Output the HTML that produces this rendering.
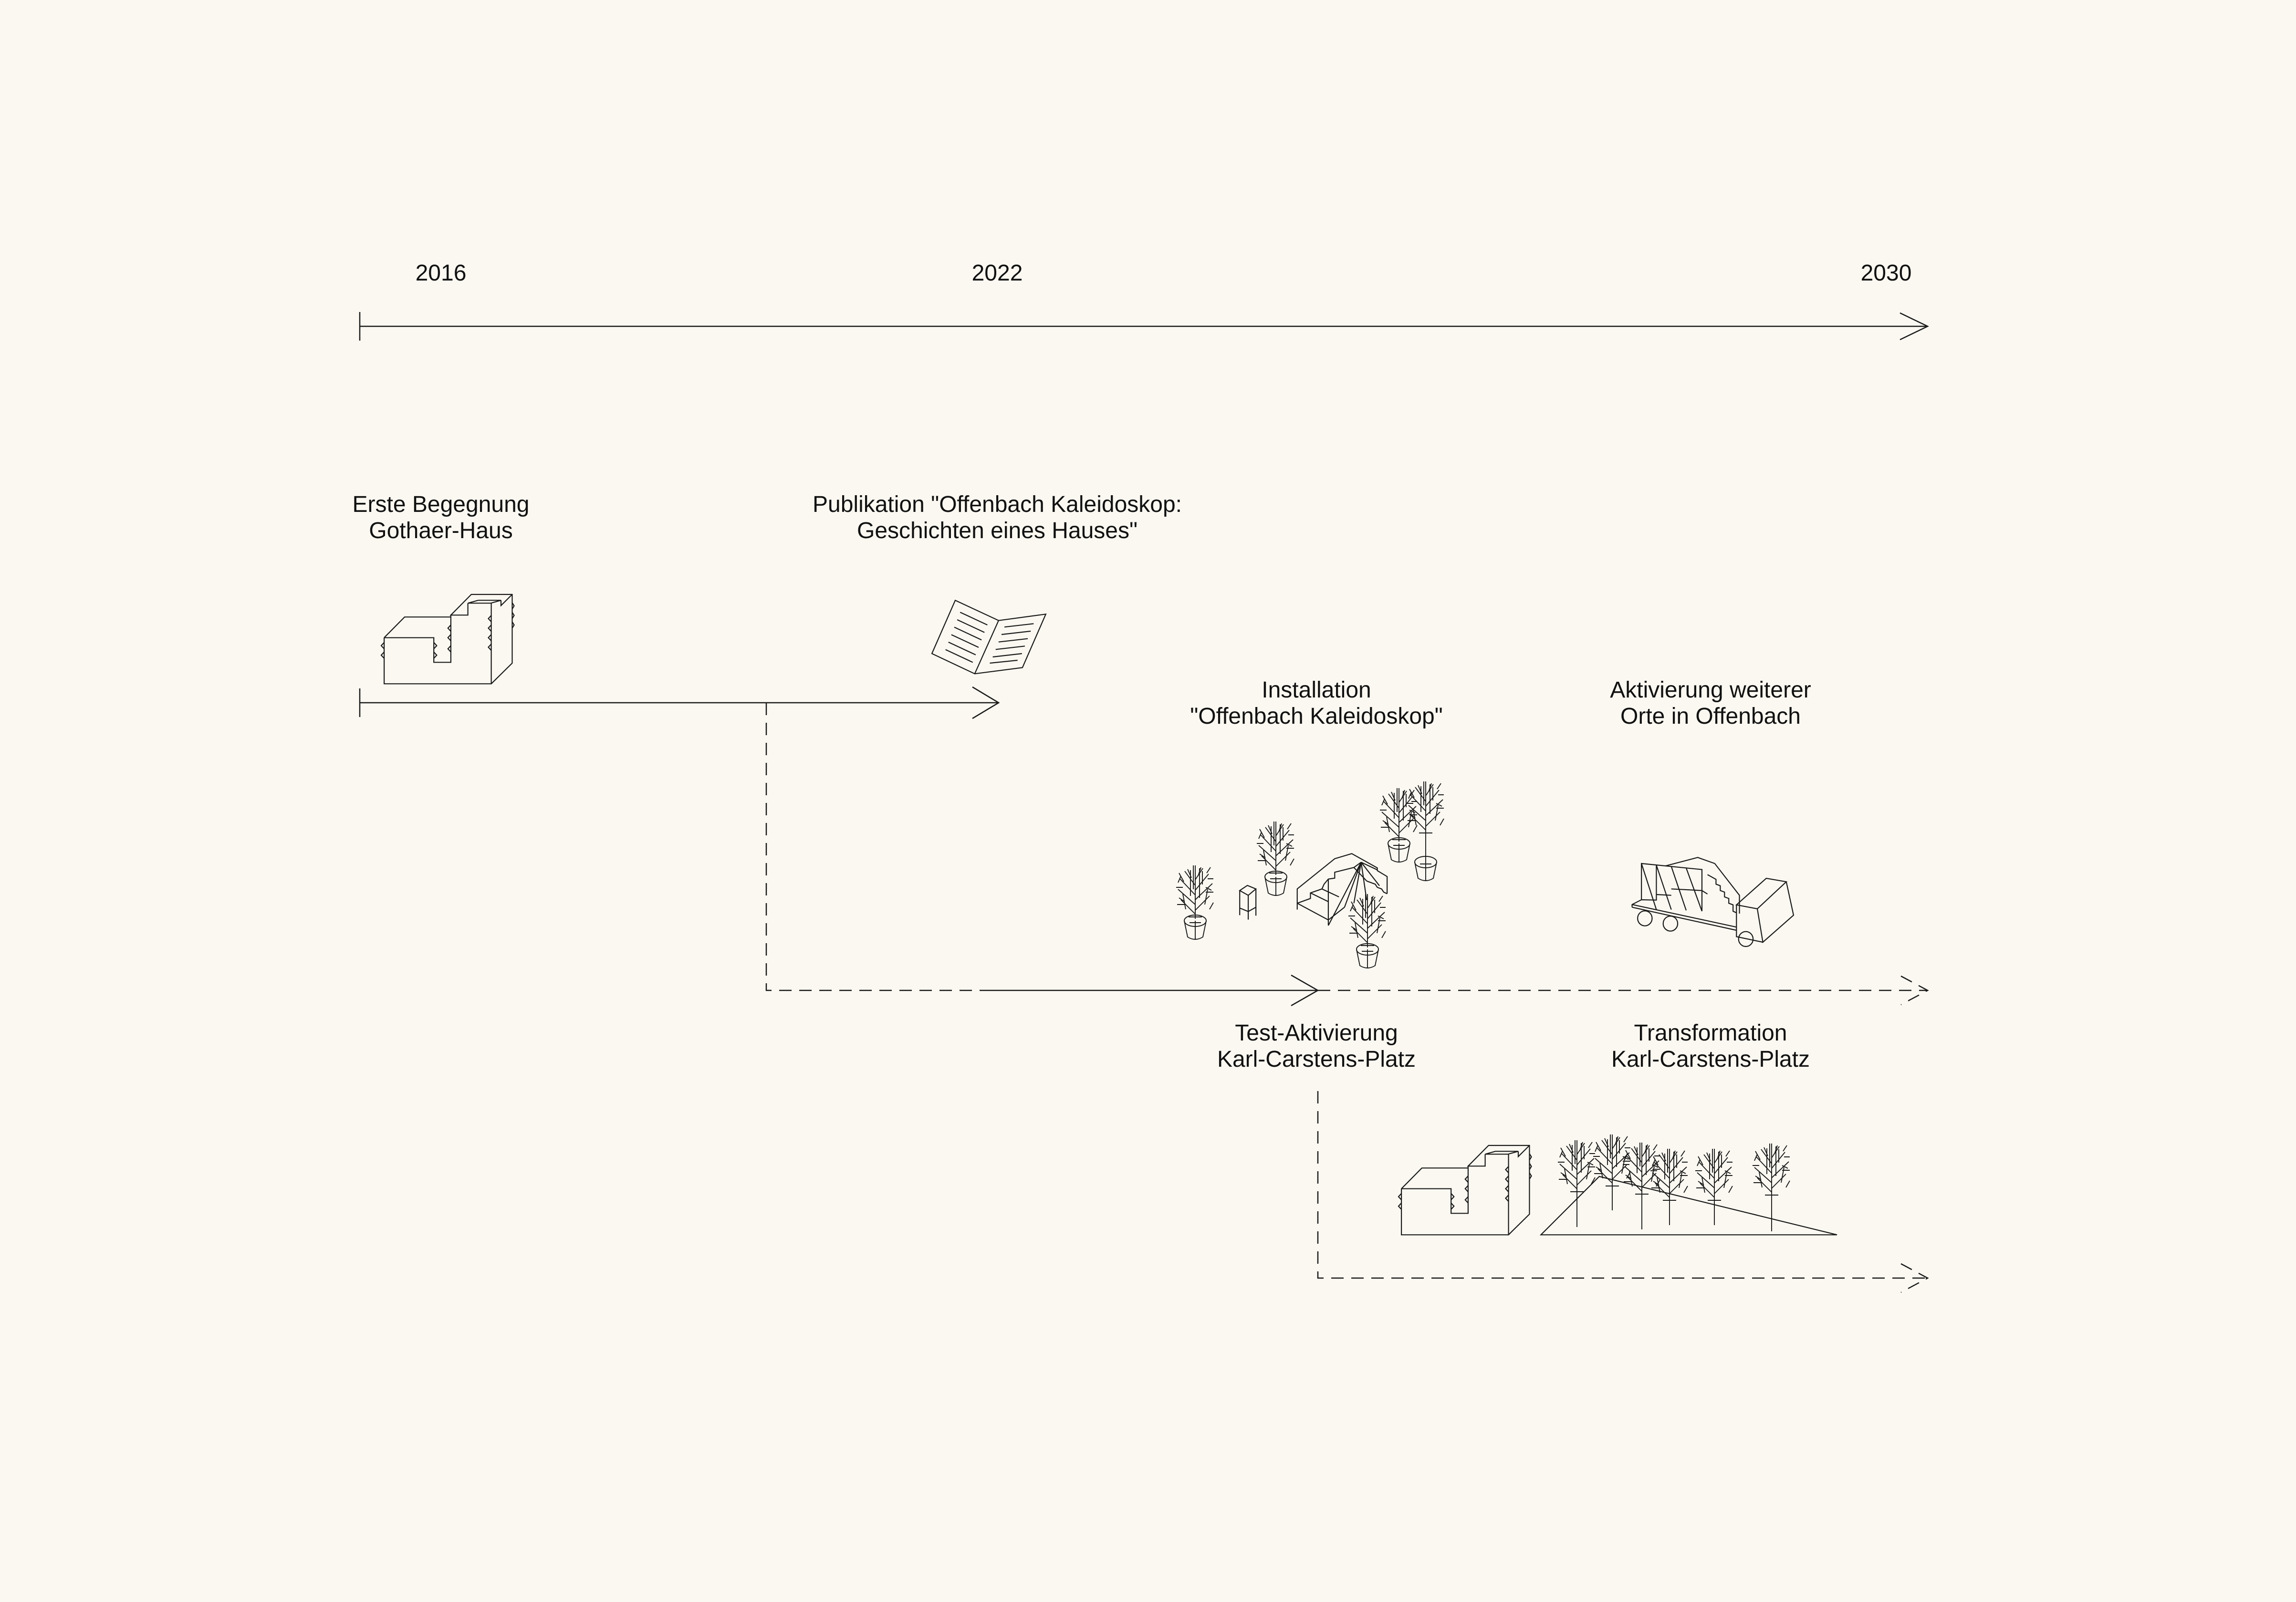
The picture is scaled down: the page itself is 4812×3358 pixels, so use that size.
<!DOCTYPE html>
<html><head><meta charset="utf-8"><style>
html,body{margin:0;padding:0;background:#fbf8f1;}
svg{display:block;}
text{font-family:"Liberation Sans",sans-serif;font-size:48px;fill:#111;text-anchor:middle;}
.l{fill:none;stroke:#1a1a1a;stroke-width:2.5;}
.i{fill:none;stroke:#1a1a1a;stroke-width:2.2;vector-effect:non-scaling-stroke;}
.d{fill:none;stroke:#1a1a1a;stroke-width:2.5;stroke-dasharray:26 16;}
</style></head><body>
<svg width="4812" height="3358" viewBox="0 0 4812 3358" xmlns="http://www.w3.org/2000/svg">
<defs>
<g id="crown" fill="none" stroke="#1a1a1a" stroke-width="1.9">
<path d="M0,0V-112M0,-10L-30,-40M0,-30L-36,-62M0,-50L-32,-84M0,-70L-22,-100M0,-18L30,-48M0,-40L36,-74M0,-60L28,-94M0,-82L16,-106M-10,-48V-102M9,-44V-106M-4,-62V-112M15,-72V-100M-20,-20L-26,-52M20,-30L26,-62M-38,-30H-22M22,-56H38M-40,-66H-26M26,-84H38M-14,-4H14M-30,-90L-36,-76M30,-20L38,-34M-24,-78L-34,-96M24,-96L32,-108M-22,-36L-34,-44M22,-66L34,-60M-8,-86L-16,-104M6,-90L12,-108"/>
</g>
<g id="pot" fill="none" stroke="#1a1a1a" stroke-width="1.9">
<ellipse cx="0" cy="0" rx="23" ry="12"/>
<path d="M-23,0L-16,34Q0,44 16,34L23,0M0,38V0"/>
<path d="M-12,4H12"/>
</g>
<g id="bld">
<g transform="translate(700,1150) scale(1.0204,0.33333)">
<path class="i" d="M103,560V850H323V345M323,850L366,720V288H282L240,418H275V343M275,343L296,325H343L322,343H275M343,325V358L366,288M103,560L145,430H240M103,560H205V715H240V418M103,590L97,610L103,630M103,650L97,670L103,690M205,590L211,610L205,630M205,650L211,670L205,690M240,480L234,500L240,520M240,540L234,560L240,580M240,610L234,630L240,650M323,420L317,440L323,460M323,480L317,500L323,520M323,540L317,560L323,580M323,600L317,620L323,640M366,340L370,360L366,380M366,400L370,420L366,440M366,460L370,480L366,500"/>
</g>
</g>
</defs>
<rect width="4812" height="3358" fill="#fbf8f1"/>

<text x="924" y="588">2016</text>
<text x="2090" y="588">2022</text>
<text x="3953" y="588">2030</text>

<path class="l" d="M754,684H4040M754,654V714M3982,656L4040,684L3982,712"/>

<path class="l" d="M754,1473H2093M754,1443V1503M2038,1440L2093,1473L2038,1506"/>
<path class="d" d="M1606,1473V2076H2077"/>
<path class="l" d="M2077,2076H2762M2706,2044L2762,2076L2706,2108"/>
<path class="d" d="M2762,2076H4040M3984,2046L4040,2076L3984,2106"/>

<path class="d" d="M2762,2287V2679H4040M3984,2649L4040,2679L3984,2709"/>

<text x="924" y="1073">Erste Begegnung</text>
<text x="924" y="1128">Gothaer-Haus</text>
<text x="2090" y="1073">Publikation "Offenbach Kaleidoskop:</text>
<text x="2090" y="1128">Geschichten eines Hauses"</text>
<text x="2759" y="1462">Installation</text>
<text x="2759" y="1517">"Offenbach Kaleidoskop"</text>
<text x="3585" y="1462">Aktivierung weiterer</text>
<text x="3585" y="1517">Orte in Offenbach</text>
<text x="2759" y="2181">Test-Aktivierung</text>
<text x="2759" y="2236">Karl-Carstens-Platz</text>
<text x="3585" y="2181">Transformation</text>
<text x="3585" y="2236">Karl-Carstens-Platz</text>

<use href="#bld"/>
<use href="#bld" transform="translate(2132,1155)"/>

<g transform="translate(700,1150) scale(1.0204,0.33333)">
<path class="i" d="M1276,325L1365,452L1316,787L1228,660ZM1365,452L1462,412L1414,748L1316,787"/>
<path class="i" d="M1286,400L1342,480M1280,447L1336,527M1274,494L1330,574M1268,541L1324,621M1262,588L1318,668M1256,635L1312,715M1377,493L1437,472M1371,540L1431,519M1365,587L1425,566M1359,634L1419,613M1353,681L1413,660M1347,720L1404,702"/>
</g>

<g transform="translate(2400,1600) scale(0.89286,0.33333)">
<path class="i" d="M357,920V790L445,600L485,568L545,658V675L568,712V820M357,880L430,985L468,905M357,880L388,850V815L415,790L420,760L430,728L445,722V685L490,655L507,622M388,815L430,870M415,790L455,840M507,622L430,1020M507,622L468,905M507,622L490,880M507,622L520,860M507,622L550,770M507,622L545,670M430,728V1020M520,740L540,760L545,780L555,790L560,810L568,820M490,655L520,740"/>
<path class="i" d="M222,800L240,768L260,790L242,830ZM222,800V955M260,790V958M242,830V983M222,910L242,932L260,905"/>
<path class="i" d="M1143,905V888L1165,858V630L1307,668V930M1143,905L1388,1050M1143,888L1388,1030M1165,858L1200,860V640M1200,640L1235,920M1235,648L1270,925M1270,658L1307,930M1165,630L1200,920M1200,825L1235,830M1235,790L1307,800L1320,822M1222,645L1297,592L1337,630L1395,830V945M1320,700L1340,730V760L1350,770V800L1360,810V840L1370,850V880L1380,890V930L1388,940M1388,890L1437,915L1505,745L1458,723ZM1437,915L1450,1125L1522,955L1505,745M1388,890V1090L1450,1125"/>
<ellipse class="i" cx="1173" cy="975" rx="17" ry="47"/>
<ellipse class="i" cx="1233" cy="1008" rx="17" ry="47"/>
<ellipse class="i" cx="1410" cy="1105" rx="17" ry="47"/>
</g>

<use href="#pot" x="2505" y="1930"/><use href="#crown" x="2505" y="1926"/>
<use href="#pot" x="2674" y="1838"/><use href="#crown" x="2674" y="1834"/>
<use href="#pot" x="2932" y="1768"/><use href="#crown" x="2932" y="1764"/>
<use href="#pot" x="2866" y="1990"/><use href="#crown" x="2866" y="1986"/>
<use href="#pot" x="2988" y="1807"/><use href="#crown" x="2988" y="1750"/>
<path class="l" style="stroke-width:1.9" d="M2988,1750V1807"/>

<g transform="translate(2700,2300) scale(0.89286,0.33333)">
<path class="i" d="M593,865H1288L730,498Z"/>
</g>
<g class="l" style="stroke-width:1.9">
<path d="M3305,2502V2572M3379,2490V2537M3441,2507V2577M3499,2520V2568M3593,2520V2568M3713,2509V2581"/>
</g>
<use href="#crown" x="3305" y="2502"/>
<use href="#crown" x="3379" y="2490"/>
<use href="#crown" x="3441" y="2507"/>
<use href="#crown" x="3499" y="2520"/>
<use href="#crown" x="3593" y="2520"/>
<use href="#crown" x="3713" y="2509"/>
</svg>
</body></html>
